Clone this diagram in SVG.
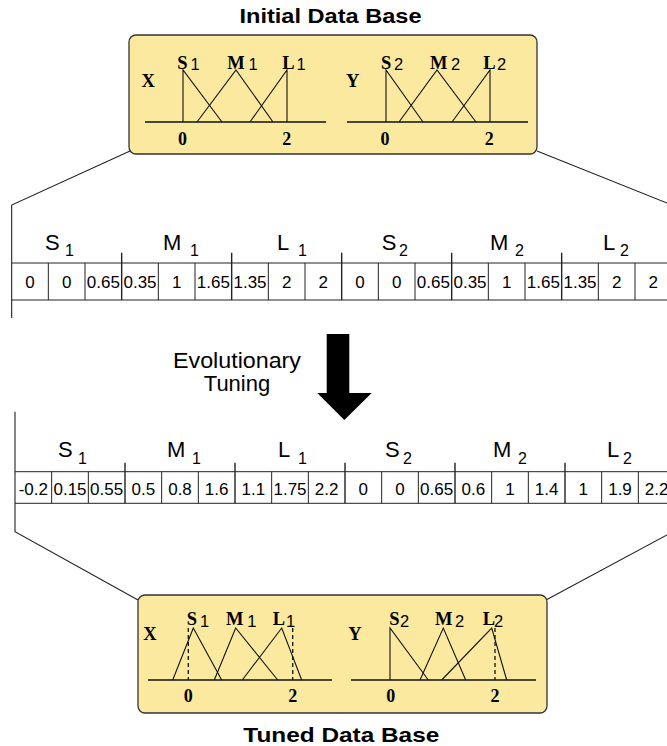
<svg xmlns="http://www.w3.org/2000/svg" width="667" height="746" viewBox="0 0 667 746">
<defs>
<style>
.title{font-family:"Liberation Sans",Arial,sans-serif;font-weight:bold;font-size:21px;fill:#000;text-anchor:middle}
.box{fill:#fbe9a0;stroke:#333;stroke-width:1.3}
.ax{stroke:#111;stroke-width:1.3;fill:none}
.mf{stroke:#111;stroke-width:1.1;fill:none}
.dash{stroke:#111;stroke-width:1.3;stroke-dasharray:4 3;fill:none}
.ser{font-family:"Liberation Serif","Times New Roman",serif;font-weight:bold;font-size:18.5px;fill:#000}
.num{font-family:"Liberation Serif","Times New Roman",serif;font-weight:bold;font-size:18px;fill:#000;text-anchor:middle}
.sub{font-family:"Liberation Sans",Arial,sans-serif;font-size:16.5px;fill:#000}
.cell{font-family:"Liberation Sans",Arial,sans-serif;font-size:17px;fill:#000;text-anchor:middle}
.gl{font-family:"Liberation Sans",Arial,sans-serif;font-size:22px;fill:#000}
.gs{font-family:"Liberation Sans",Arial,sans-serif;font-size:16px;fill:#000}
.tl{stroke:#222;stroke-width:1;fill:none}
.tg{stroke:#222;stroke-width:1.4;fill:none}
.con{stroke:#222;stroke-width:1.1;fill:none}
.lbl{font-family:"Liberation Sans",Arial,sans-serif;font-size:22px;fill:#000;text-anchor:middle}
</style>
</defs>
<rect width="667" height="746" fill="#fff"/>

<g id="connectors">
<polyline class="con" points="130,151 11.67,205 11.67,318"/>
<line class="con" x1="537" y1="151" x2="667" y2="203"/>
<polyline class="con" points="15,411.7 15,531.7 138,600"/>
<line class="con" x1="546" y1="600" x2="667" y2="535"/>
</g>

<g id="title-initial">
<text class="title" x="330.5" y="23.3" textLength="182" lengthAdjust="spacingAndGlyphs">Initial Data Base</text>
</g>

<g id="box-initial">
<rect class="box" x="129" y="35" width="408" height="119" rx="7"/>
<line class="ax" x1="145" y1="122" x2="326" y2="122"/>
<line class="ax" x1="347" y1="122" x2="528" y2="122"/>
<polyline class="mf" points="183,122 183,70 222,122"/>
<polyline class="mf" points="197,122 236,70 273,122"/>
<polyline class="mf" points="250,122 287,70 287,122"/>
<polyline class="mf" points="386,122 386,70 423,122"/>
<polyline class="mf" points="399,122 437,70 476,122"/>
<polyline class="mf" points="452,122 490,70 490,122"/>
<text class="ser" x="141.5" y="86.7">X</text>
<text class="ser" x="346" y="86.7">Y</text>
<text class="ser" x="177.3" y="69">S</text><text class="sub" x="190.5" y="70">1</text>
<text class="ser" x="227.3" y="69">M</text><text class="sub" x="248.5" y="70">1</text>
<text class="ser" x="282.3" y="69">L</text><text class="sub" x="296.5" y="70">1</text>
<text class="ser" x="381" y="69">S</text><text class="sub" x="394" y="70">2</text>
<text class="ser" x="430" y="69">M</text><text class="sub" x="451" y="70">2</text>
<text class="ser" x="483.3" y="69">L</text><text class="sub" x="497" y="70">2</text>
<text class="num" x="182.5" y="145">0</text>
<text class="num" x="286.7" y="145">2</text>
<text class="num" x="385" y="145">0</text>
<text class="num" x="489.3" y="145">2</text>
</g>

<g id="table-initial">
<line class="tl" x1="11.67" y1="263" x2="667" y2="263"/>
<line class="tl" x1="11.67" y1="300" x2="667" y2="300"/>
<path class="tl" d="M48.33 263V300M85 263V300M158.33 263V300M195 263V300M268.33 263V300M305 263V300M378.33 263V300M415 263V300M488.33 263V300M525 263V300M598.33 263V300M635 263V300"/>
<path class="tg" d="M121.67 252.7V300M231.67 252.7V300M341.67 252.7V300M451.67 252.7V300M561.67 252.7V300"/>
<text class="gl" x="45" y="250">S</text><text class="gs" x="65" y="256">1</text>
<text class="gl" x="163" y="250">M</text><text class="gs" x="190" y="256">1</text>
<text class="gl" x="277" y="250">L</text><text class="gs" x="298" y="256">1</text>
<text class="gl" x="381.7" y="250">S</text><text class="gs" x="399" y="256">2</text>
<text class="gl" x="490" y="250">M</text><text class="gs" x="515" y="256">2</text>
<text class="gl" x="603" y="250">L</text><text class="gs" x="620" y="256">2</text>
<text class="cell" x="30" y="287.7">0</text>
<text class="cell" x="66.67" y="287.7">0</text>
<text class="cell" x="103.33" y="287.7">0.65</text>
<text class="cell" x="140" y="287.7">0.35</text>
<text class="cell" x="176.67" y="287.7">1</text>
<text class="cell" x="213.33" y="287.7">1.65</text>
<text class="cell" x="250" y="287.7">1.35</text>
<text class="cell" x="286.67" y="287.7">2</text>
<text class="cell" x="323.33" y="287.7">2</text>
<text class="cell" x="360" y="287.7">0</text>
<text class="cell" x="396.67" y="287.7">0</text>
<text class="cell" x="433.33" y="287.7">0.65</text>
<text class="cell" x="470" y="287.7">0.35</text>
<text class="cell" x="506.67" y="287.7">1</text>
<text class="cell" x="543.33" y="287.7">1.65</text>
<text class="cell" x="580" y="287.7">1.35</text>
<text class="cell" x="616.67" y="287.7">2</text>
<text class="cell" x="653.33" y="287.7">2</text>
</g>

<g id="label-tuning">
<text class="lbl" x="237" y="368" textLength="128" lengthAdjust="spacingAndGlyphs">Evolutionary</text>
<text class="lbl" x="237" y="391">Tuning</text>
</g>

<g id="arrow">
<polygon fill="#000" points="326.7,334 349.3,334 349.3,393 371.7,393 344.3,420 317.3,393 326.7,393"/>
</g>

<g id="table-tuned">
<line class="tl" x1="15" y1="471.7" x2="667" y2="471.7"/>
<line class="tl" x1="15" y1="503.3" x2="667" y2="503.3"/>
<path class="tl" d="M51.67 471.7V503.3M88.33 471.7V503.3M161.67 471.7V503.3M198.33 471.7V503.3M271.67 471.7V503.3M308.33 471.7V503.3M381.67 471.7V503.3M418.33 471.7V503.3M491.67 471.7V503.3M528.33 471.7V503.3M601.67 471.7V503.3M638.33 471.7V503.3"/>
<path class="tg" d="M125 462.7V503.3M235 462.7V503.3M345 462.7V503.3M455 462.7V503.3M565 462.7V503.3"/>
<text class="gl" x="58" y="456.7">S</text><text class="gs" x="78" y="464">1</text>
<text class="gl" x="167" y="456.7">M</text><text class="gs" x="192" y="464">1</text>
<text class="gl" x="278" y="456.7">L</text><text class="gs" x="298" y="464">1</text>
<text class="gl" x="385" y="456.7">S</text><text class="gs" x="403" y="464">2</text>
<text class="gl" x="493" y="456.7">M</text><text class="gs" x="518" y="464">2</text>
<text class="gl" x="607" y="456.7">L</text><text class="gs" x="623" y="464">2</text>
<text class="cell" x="33.33" y="495">-0.2</text>
<text class="cell" x="70" y="495">0.15</text>
<text class="cell" x="106.67" y="495">0.55</text>
<text class="cell" x="143.33" y="495">0.5</text>
<text class="cell" x="180" y="495">0.8</text>
<text class="cell" x="216.67" y="495">1.6</text>
<text class="cell" x="253.33" y="495">1.1</text>
<text class="cell" x="290" y="495">1.75</text>
<text class="cell" x="326.67" y="495">2.2</text>
<text class="cell" x="363.33" y="495">0</text>
<text class="cell" x="400" y="495">0</text>
<text class="cell" x="436.67" y="495">0.65</text>
<text class="cell" x="473.33" y="495">0.6</text>
<text class="cell" x="510" y="495">1</text>
<text class="cell" x="546.67" y="495">1.4</text>
<text class="cell" x="583.33" y="495">1</text>
<text class="cell" x="620" y="495">1.9</text>
<text class="cell" x="656.67" y="495">2.2</text>
</g>

<g id="box-tuned">
<rect class="box" x="138" y="595" width="409" height="118" rx="7"/>
<line class="ax" x1="148" y1="680" x2="332" y2="680"/>
<line class="ax" x1="351" y1="680" x2="536" y2="680"/>
<polyline class="mf" points="172.7,680 193.3,628 221.7,680"/>
<polyline class="mf" points="214.3,680 235.7,628 277.7,680"/>
<polyline class="mf" points="242.3,680 281.7,628 301.7,680"/>
<line class="dash" x1="188.3" y1="628" x2="188.3" y2="680"/>
<line class="dash" x1="292.7" y1="628" x2="292.7" y2="680"/>
<polyline class="mf" points="390,680 390,628 428.3,680"/>
<polyline class="mf" points="420,680 443.3,628 465.7,680"/>
<polyline class="mf" points="441.7,680 491.7,628 506.7,680"/>
<line class="dash" x1="495" y1="628" x2="495" y2="680"/>
<text class="ser" x="143.3" y="640">X</text>
<text class="ser" x="348.3" y="640">Y</text>
<text class="ser" x="186.7" y="625">S</text><text class="sub" x="200" y="627">1</text>
<text class="ser" x="226" y="625">M</text><text class="sub" x="247.3" y="627">1</text>
<text class="ser" x="272.7" y="625">L</text><text class="sub" x="286" y="627">1</text>
<text class="ser" x="389.3" y="625">S</text><text class="sub" x="400" y="627">2</text>
<text class="ser" x="435" y="625">M</text><text class="sub" x="455" y="627">2</text>
<text class="ser" x="482.7" y="625">L</text><text class="sub" x="494" y="627">2</text>
<text class="num" x="188.3" y="701.7">0</text>
<text class="num" x="292.7" y="701.7">2</text>
<text class="num" x="390.7" y="701.7">0</text>
<text class="num" x="495" y="701.7">2</text>
</g>

<g id="title-tuned">
<text class="title" x="341.3" y="741.7" textLength="196" lengthAdjust="spacingAndGlyphs">Tuned Data Base</text>
</g>
</svg>
